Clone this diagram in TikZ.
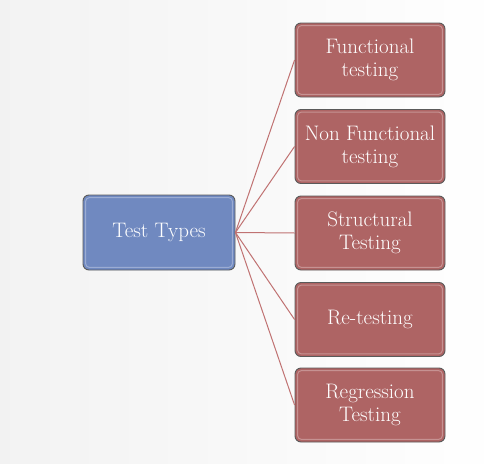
\documentclass[tikz,border=0pt]{standalone}
\usetikzlibrary{shadings}
\definecolor{bluebox}{HTML}{7089C0}
\definecolor{redbox}{HTML}{AE6464}
\definecolor{linkred}{HTML}{C07272}
\definecolor{edge}{HTML}{5A5A5A}
\begin{document}
\begin{tikzpicture}[x=1pt,y=-1pt,
  box/.style={rectangle, rounded corners=6pt, draw=edge, line width=0.9pt,
    minimum width=150pt, minimum height=74pt, align=center, text=white,
    font=\fontsize{21}{23}\selectfont, inner sep=1pt},
  hub/.style={box, fill=bluebox, minimum width=152pt, minimum height=75pt},
  leaf/.style={box, fill=redbox},
  shine/.style={draw=white, opacity=0.3, line width=1pt, rounded corners=4pt},
  link/.style={draw=linkred, line width=1pt}]
\useasboundingbox (0,0) rectangle (503,463);
\shade[left color=black!5, right color=white] (0,0) rectangle (503,463);
\node[hub] (tt) at (159,232.5) {Test Types};
\node[leaf] (f) at (370,60) {Functional\\testing};
\node[leaf] (nf) at (370,146.5) {Non Functional\\testing};
\node[leaf] (st) at (370,233) {Structural\\Testing};
\node[leaf] (rt) at (370,319.5) {Re-testing};
\node[leaf] (rg) at (370,405) {Regression\\Testing};
\foreach \n in {tt,f,nf,st,rt,rg}
  \draw[shine] ([shift={(3,3)}]\n.north west) rectangle ([shift={(-3,-3)}]\n.south east);
\foreach \n in {f,nf,st,rt,rg} \draw[link] (tt.east) -- (\n.west);
\end{tikzpicture}
\end{document}
